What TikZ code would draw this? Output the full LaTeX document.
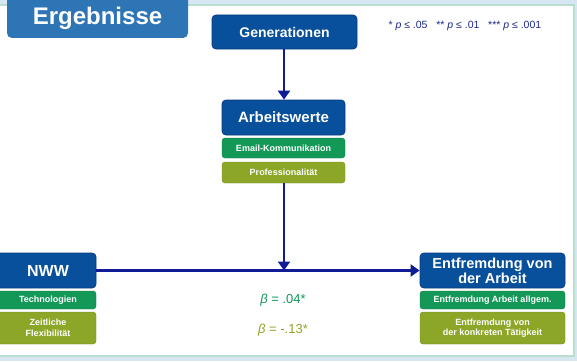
\documentclass[tikz,border=0pt]{standalone}
\usepackage{fontspec}
\setmainfont{Liberation Sans}
\usetikzlibrary{arrows.meta}
\definecolor{bgblue}{RGB}{214,230,242}
\definecolor{framegreen}{RGB}{185,222,205}
\definecolor{titleblue}{RGB}{46,117,182}
\definecolor{boxblue}{RGB}{8,80,155}
\definecolor{boxblueline}{RGB}{10,60,130}
\definecolor{boxgreen}{RGB}{20,152,88}
\definecolor{boxolive}{RGB}{140,166,40}
\definecolor{navy}{RGB}{16,28,150}
\definecolor{ptext}{RGB}{30,40,140}
\tikzset{
  mainbox/.style={draw=boxblueline, line width=0.8pt, fill=boxblue, rounded corners=4pt, text=white, font=\bfseries\fontsize{14}{15}\selectfont, align=center, inner sep=0pt},
  greenbox/.style={draw=boxgreen!80!black, line width=0.4pt, fill=boxgreen, rounded corners=3pt, text=white, font=\bfseries\fontsize{9}{10.5}\selectfont, align=center, inner sep=0pt},
  olivebox/.style={draw=boxolive!85!black, line width=0.4pt, fill=boxolive, rounded corners=3pt, text=white, font=\bfseries\fontsize{9}{10.5}\selectfont, align=center, inner sep=0pt},
  conn/.style={draw=navy, line width=2.6pt},
  arr/.style={conn, -{Triangle[width=12pt,length=9pt]}},
}
\begin{document}
\begin{tikzpicture}[x=1pt,y=-1pt]
\useasboundingbox (0,0) rectangle (577,361);
\clip (0,0) rectangle (577,361);
\fill[bgblue] (0,0) rectangle (577,361);
\draw[framegreen, line width=1.5pt, fill=white] (-5,5) rectangle (574,356);
% title
\node[fill=titleblue, rounded corners=5pt, minimum width=181pt, minimum height=50pt, inner sep=0pt] (titlebox) at (97.5,13) {};
\node[text=white, font=\bfseries\fontsize{24}{26}\selectfont] (title) at (97.5,18.5) {Ergebnisse};
% p values
\node[text=ptext, font=\fontsize{10.5}{12}\selectfont, anchor=west] (pval) at (385,26) {* \textit{p} ≤ .05\ \ \ ** \textit{p} ≤ .01\ \ \ *** \textit{p} ≤ .001};
% boxes
\node[mainbox, minimum width=145pt, minimum height=34pt] (gen) at (284.5,32) {Generationen};
\node[mainbox, minimum width=123pt, minimum height=35pt, font=\bfseries\fontsize{15}{16}\selectfont] (aw) at (283.5,117.5) {Arbeitswerte};
\node[greenbox, minimum width=123pt, minimum height=20pt] (email) at (283.5,148) {Email-Kommunikation};
\node[olivebox, minimum width=123pt, minimum height=21pt] (prof) at (283.5,172.5) {Professionalität};
\node[mainbox, minimum width=102pt, minimum height=35pt, font=\bfseries\fontsize{16}{17}\selectfont] (nww) at (45,270.5) {\hspace*{6pt}NWW};
\node[greenbox, minimum width=102pt, minimum height=18pt] (tech) at (45,300) {\hspace*{6pt}Technologien};
\node[olivebox, minimum width=102pt, minimum height=32pt] (zeit) at (45,328) {\hspace*{6pt}Zeitliche\\\hspace*{6pt}Flexibilität};
\node[mainbox, minimum width=145pt, minimum height=35pt, font=\bfseries\fontsize{14.5}{15}\selectfont] (ent) at (492.5,270.5) {Entfremdung von\\der Arbeit};
\node[greenbox, minimum width=145pt, minimum height=18pt] (enta) at (492.5,300) {Entfremdung Arbeit allgem.};
\node[olivebox, minimum width=145pt, minimum height=32pt] (entk) at (492.5,328) {Entfremdung von\\der konkreten Tätigkeit};
% beta labels
\node[text=boxgreen, font=\fontsize{13}{15}\selectfont] (b1) at (283,300) {\textit{β} = .04*};
\node[text=boxolive, font=\fontsize{13}{15}\selectfont] (b2) at (283,330) {\textit{β} = -.13*};
% connectors
\coordinate (m) at (284,270.5);
\draw[arr] (gen.south -| 284,0) -- (aw.north -| 284,0);
\draw[arr] (nww.east) -- (ent.west);
\draw[arr] (prof.south -| m) -- (m);
\end{tikzpicture}
\end{document}
